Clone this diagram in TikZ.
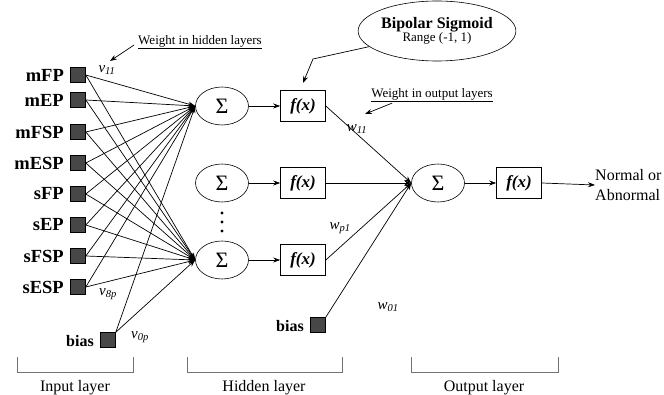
\documentclass[tikz,border=0pt]{standalone}
\usepackage{fontspec}
\setmainfont{Liberation Serif}
\usetikzlibrary{arrows.meta,shapes.geometric}
\begin{document}
\begin{tikzpicture}[x=1pt,y=-1pt,
  sq/.style={draw=black,fill=black!72,minimum size=15pt,inner sep=0pt,line width=0.6pt},
  sig/.style={ellipse,draw,line width=0.6pt,minimum width=53pt,minimum height=38pt,inner sep=0pt,font=\fontsize{22}{22}\selectfont},
  fxbox/.style={draw,line width=0.6pt,minimum width=45pt,minimum height=31pt,inner sep=0pt,font=\fontsize{17}{17}\selectfont\bfseries\itshape},
  inlab/.style={anchor=east,inner sep=0pt,font=\fontsize{18.5}{18}\selectfont\bfseries},
  biaslab/.style={anchor=east,inner sep=0pt,font=\fontsize{16}{16}\selectfont\bfseries},
  wlab/.style={inner sep=0pt,font=\fontsize{15}{15}\selectfont\itshape},
  note/.style={inner sep=1pt,font=\fontsize{13}{13}\selectfont},
  laylab/.style={inner sep=0pt,font=\fontsize{16}{16}\selectfont},
  conn/.style={line width=0.7pt},
  arr/.style={conn,-{Stealth[length=7pt,width=5pt]}},
  brk/.style={draw=black!55,line width=0.8pt}]
\useasboundingbox (0,0) rectangle (664,395);

% inputs
\foreach \n/\t/\y in {1/mFP/75,2/mEP/100,3/mFSP/132,4/mESP/163,5/sFP/194,6/sEP/225,7/sFSP/256,8/sESP/287}{
  \node[sq] (i\n) at (78,\y) {};
  \node[inlab] (l\n) at (64,\y) {\t};
}
\node[sq] (b1) at (108,340) {};
\node[biaslab] (bl1) at (94,341) {bias};

% hidden
\node[sig] (h1) at (222,106) {Σ};
\node[sig] (h2) at (222,183) {Σ};
\node[sig] (h3) at (222,260) {Σ};
\node[fxbox] (f1) at (303,106) {f(x)};
\node[fxbox] (f2) at (303,183) {f(x)};
\node[fxbox] (f3) at (303,260) {f(x)};
\foreach \k in {1,2,3}{\draw[arr] (h\k.east) -- (f\k.west);}
\foreach \k/\y in {1/213,2/222,3/231}{\fill (222,\y) circle (1.6pt);}

% output
\node[sig] (o) at (438,183) {Σ};
\node[fxbox] (fo) at (519,183) {f(x)};
\draw[arr] (o.east) -- (fo.west);
\node[inner sep=0pt,anchor=west,align=left,font=\fontsize{16}{20}\selectfont] (out) at (595,185) {Normal or\\Abnormal};
\draw[arr] (fo.east) -- (out.west);

\node[sq] (b2) at (318,325) {};
\node[biaslab] (bl2) at (304,326) {bias};

% input -> hidden connections
\foreach \n in {1,...,8}{
  \draw[arr] (i\n.east) -- (h1.west);
  \draw[arr] (i\n.east) -- (h3.west);
}
\draw[arr] (b1.north east) -- (h1.west);
\draw[arr] (b1.north east) -- (h3.west);

% hidden -> output
\draw[arr] (f1.east) -- (o.west);
\draw[arr] (f2.east) -- (o.west);
\draw[arr] (f3.east) -- (o.west);
\draw[arr] (b2.north east) -- (o.west);

% weight labels
\node[wlab] (v11) at (107,70) {v\textsubscript{11}};
\node[wlab] (v8p) at (108,294) {v\textsubscript{8p}};
\node[wlab] (v0p) at (140,337) {v\textsubscript{0p}};
\node[wlab] (w11) at (357,129) {w\textsubscript{11}};
\node[wlab] (wp1) at (340,228) {w\textsubscript{p1}};
\node[wlab] (w01) at (388,307) {w\textsubscript{01}};

% annotations
\node[note] (wh) at (200,42) {\underline{Weight in hidden layers}};
\coordinate (whT) at (110,61);
\draw[arr] ([xshift=-3pt,yshift=-3pt]wh.west) -- (whT);

\node[note] (wo) at (432,95) {\underline{Weight in output layers}};
\coordinate (woT) at (365,114);
\draw[arr] ([xshift=22pt]wo.south west) -- (woT);

\node[ellipse,draw,line width=0.6pt,minimum width=131pt,minimum height=60pt,inner sep=0pt,align=center] (bs) at (437,31)
  {{\fontsize{16}{18}\selectfont\bfseries Bipolar Sigmoid}\\[-1pt]{\fontsize{13}{15}\selectfont Range (-1, 1)}};
\coordinate (bsM) at (313,59);
\coordinate (bsT) at (303,83);
\draw[arr] (bs.193) -- (bsM) -- (bsT);

% layer brackets
\draw[brk] (17,357) -- (17,372) -- (133,372) -- (133,357);
\draw[brk] (187,357) -- (187,372) -- (342,372) -- (342,357);
\draw[brk] (411,357) -- (411,372) -- (558,372) -- (558,357);
\node[laylab] (il) at (75,388) {Input layer};
\node[laylab] (hl) at (264,388) {Hidden layer};
\node[laylab] (ol) at (484,388) {Output layer};
\end{tikzpicture}
\end{document}
